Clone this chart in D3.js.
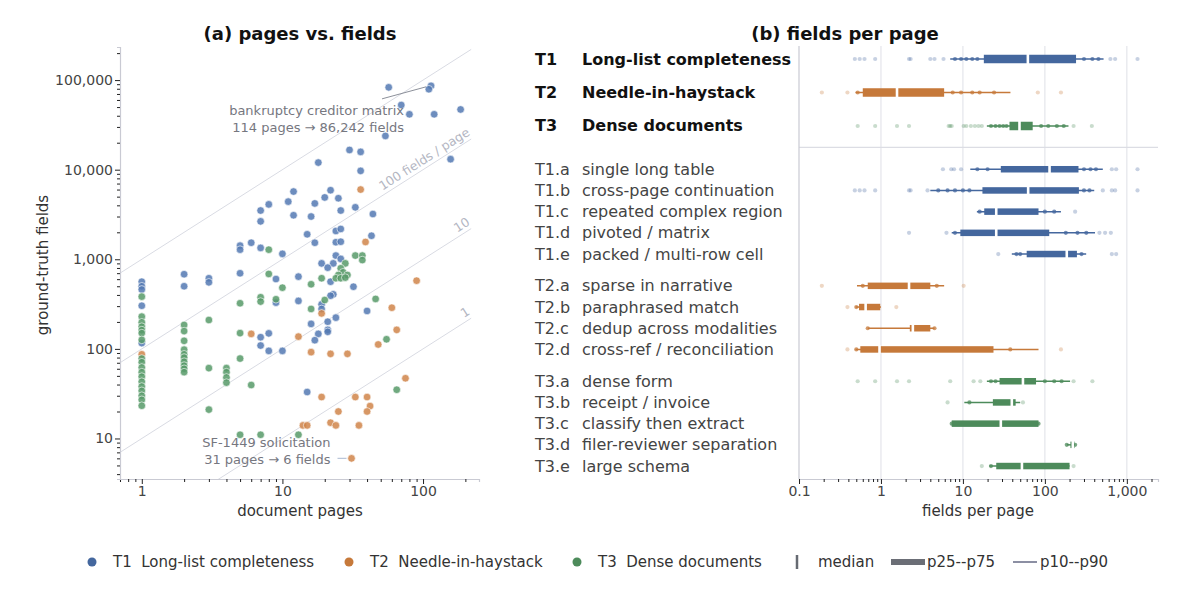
<!DOCTYPE html>
<html>
<head>
<meta charset="utf-8">
<script src="https://cdn.jsdelivr.net/npm/d3@7"></script>
<style>
  body { margin: 0; background: #fff; }
  svg, svg text { font-family: "DejaVu Sans", sans-serif; }
</style>
</head>
<body>
<div id="chart"></div>
<script>
// ---------- data: panel (a), [document pages, ground-truth fields] ----------
const t1Docs = [
  [57, 83000], [114, 86242], [110, 79000], [70, 52700], [80, 41500], [120, 41500], [185, 47000],
  [54, 23800], [157, 13100], [30, 16600], [36, 15800], [18, 12000], [36, 9700], [12, 5700],
  [22, 5900], [11, 4400], [8, 4100], [7, 3500], [7, 2650], [17, 4200], [20, 4900], [25, 4800],
  [26, 3500], [33, 3800], [44, 3200], [12, 3100], [16, 3000], [15, 1900], [24, 2070], [26, 2180],
  [43, 1830], [17, 1530], [24, 1550], [26, 1570], [5, 1420], [5, 1280], [6, 1530], [7, 1340],
  [10, 1150], [24, 1100], [26, 1010], [19, 900], [23, 900], [21, 806], [13, 640], [22, 562],
  [32, 494], [23, 406], [22, 392], [13, 343], [19, 314], [19, 279], [40, 265], [5, 698],
  [2, 681], [2, 500], [3, 614], [3, 553], [9, 602], [1, 562], [1, 500], [1, 460], [1, 303],
  [1, 116], [9, 328], [24, 223], [21, 201], [21, 163], [21, 155], [16, 190], [18, 147],
  [17, 125], [7, 135], [7, 109], [8, 149], [8, 95], [10, 95], [15, 33]
];
const t2Docs = [
  [36, 6000], [39, 1560], [60, 288], [19, 249], [90, 577], [13, 137], [6, 147], [16, 92],
  [22, 88], [29, 88], [65, 163], [48, 112], [19, 29], [33, 29], [40, 29], [42, 23], [40, 20],
  [25, 20], [22, 15], [24, 14], [14, 14], [15, 14], [35, 14], [75, 47], [31, 6], [1, 87]
];
const t3Docs = [
  [8, 1280], [33, 1100], [37, 1100], [37, 980], [28, 900], [26, 794], [27, 716], [25, 668],
  [29, 668], [24, 614], [26, 614], [28, 624], [19, 614], [16, 526], [20, 351], [46, 361],
  [16, 279], [8, 686], [10, 482], [5, 323], [7, 377], [7, 337], [9, 358], [5, 150], [6, 39.5],
  [55, 128], [65, 35], [5, 11], [7, 11], [13, 11], [5, 78],
  [1, 383], [1, 229], [1, 198], [1, 177], [1, 162], [1, 150], [1, 126], [1, 78], [1, 71],
  [1, 62], [1, 55], [1, 49], [1, 43], [1, 38], [1, 34], [1, 30], [1, 27], [1, 23.2],
  [2, 185], [2, 158], [2, 123], [2, 98], [2, 87], [2, 80], [2, 72], [2, 65], [2, 60], [2, 55],
  [3, 210], [3, 61], [3, 21], [4, 61], [4, 55], [4, 48], [4, 42]
];
const densityLines = [1000, 100, 10, 1];
const densityLabels = ["", "100 fields / page", "10", "1"];

// ---------- data: panel (b), fields per page ----------
const rowCodes = ["T1", "T2", "T3", "T1.a", "T1.b", "T1.c", "T1.d", "T1.e",
  "T2.a", "T2.b", "T2.c", "T2.d", "T3.a", "T3.b", "T3.c", "T3.d", "T3.e"];
const rowNames = ["Long-list completeness", "Needle-in-haystack", "Dense documents",
  "single long table", "cross-page continuation", "repeated complex region", "pivoted / matrix",
  "packed / multi-row cell", "sparse in narrative", "paraphrased match", "dedup across modalities",
  "cross-ref / reconciliation", "dense form", "receipt / invoice", "classify then extract",
  "filer-reviewer separation", "large schema"];
const p10 = [7, 0.49, 19.6, 12.3, 4.0, 14.8, 7.3, 39.5, 0.51, 0.49, 0.69, 0.49, 19.6, 10.4, 7.3, 185, 21];
const p25 = [18, 0.60, 37, 29, 17.3, 18.2, 9.3, 60, 0.69, 0.54, 2.25, 0.56, 28, 23.2, 7.3, 205, 25.5];
const p50 = [62, 1.57, 49, 114, 62.5, 25.5, 25.5, 185, 2.2, 0.65, 2.45, 0.96, 54, 39.5, 29, 219, 52.5];
const p75 = [240, 5.9, 71, 257, 260, 83.6, 113, 246, 4.0, 0.98, 4.0, 23.6, 78, 44, 83.6, 230, 200];
const p90 = [520, 38, 194, 509, 400, 157, 409, 319, 5.9, 1.0, 4.5, 83.6, 203, 50, 83.6, 234, 200];
const rowPoints = [
  [0.48, 0.55, 0.63, 0.85, 2.2, 2.3, 4.0, 4.5, 5.8, 8, 9.5, 11, 13, 15, 300, 380, 450, 630, 720, 1350],
  [0.19, 0.39, 0.52, 7.5, 9.5, 13, 16, 24, 82, 157],
  [0.52, 0.85, 1.57, 2.2, 6.7, 7.0, 7.3, 10.2, 11, 12.5, 14, 15.5, 17, 22, 25, 28, 31, 34, 90, 110, 140, 170, 224, 374],
  [5.7, 7.2, 7.8, 9.5, 15, 20, 300, 360, 420, 656, 741, 1350],
  [0.48, 0.55, 0.63, 0.85, 2.2, 2.3, 3.7, 5, 6.5, 8, 10, 12, 300, 350, 509, 656, 720, 1350],
  [16, 100, 130, 234],
  [2.2, 6.3, 8, 180, 250, 320, 463, 543, 638],
  [27, 45, 50, 280, 656, 741],
  [0.19, 0.6, 4.8, 10.2],
  [0.39, 0.5, 1.54],
  [0.69, 4.5],
  [0.39, 0.5, 37.8, 157],
  [0.52, 0.85, 1.57, 2.2, 7.0, 13.5, 16.3, 22, 25, 100, 130, 160, 224, 380],
  [6.5, 12, 54],
  [7.3, 83.6],
  [185, 234],
  [17, 22, 224]
];

const taskNames = ["Long-list completeness", "Needle-in-haystack", "Dense documents"];
const taskColor = { T1: "#44679e", T2: "#c6793a", T3: "#4d8b5b" };
const dotColor = { T1: "#5479b3", T2: "#d0854a", T3: "#579a68" };

// ---------- chart space ----------
const width = 1199, height = 597;
const svg = d3.select("#chart").append("svg")
  .attr("width", width).attr("height", height);

const fmt = d3.format(",");
const isDecade = d => Math.abs(Math.log10(d) - Math.round(Math.log10(d))) < 1e-6;

// style an axis: light spine, short minor ticks, longer decade ticks
function styleAxis(g, dir) {
  g.attr("font-family", null).attr("font-size", null);
  g.select(".domain").attr("stroke", "#c9cad3").attr("stroke-width", 1.2);
  g.selectAll(".tick line").attr("stroke", "#222").attr("stroke-width", 1)
    .attr(dir === "x" ? "y2" : "x2", d => (isDecade(d) ? 5 : 3) * (dir === "x" ? 1 : -1));
  g.selectAll(".tick text").attr("fill", "#444")
    .style("font-family", "'DejaVu Sans'").style("font-size", "14px");
}

// ============ panel (a) ============
const xA = d3.scaleLog().domain([0.7, 250]).range([120, 479]);
const yA = d3.scaleLog().domain([3.53, 234000]).range([479, 47]);

svg.append("defs").append("clipPath").attr("id", "clipA")
  .append("rect").attr("x", 120).attr("y", 47).attr("width", 359).attr("height", 432);

// fields-per-page guide lines
const guides = svg.append("g");
densityLines.forEach((d, i) => {
  guides.append("line")
    .attr("clip-path", "url(#clipA)")
    .attr("x1", xA(0.7)).attr("y1", yA(0.7 * d))
    .attr("x2", xA(220)).attr("y2", yA(220 * d))
    .attr("stroke", "#d9dbe3").attr("stroke-width", 1);
  if (densityLabels[i]) {
    const ang = Math.atan2(yA(10 * d) - yA(d), xA(10) - xA(1)) * 180 / Math.PI;
    guides.append("text")
      .attr("transform", `translate(${xA(226)},${yA(226 * d)}) rotate(${ang})`)
      .attr("dy", -4)
      .attr("text-anchor", "end")
      .attr("fill", "#b3b6c2").attr("font-size", 12.5)
      .text(densityLabels[i]);
  }
});

const gxA = svg.append("g").attr("transform", "translate(0,479)")
  .call(d3.axisBottom(xA).tickSize(3).tickPadding(4)
    .tickFormat(d => [1, 10, 100].includes(d) ? fmt(d) : ""));
styleAxis(gxA, "x");
const gyA = svg.append("g").attr("transform", "translate(120,0)")
  .call(d3.axisLeft(yA).tickSize(3).tickPadding(4)
    .tickFormat(d => [10, 100, 1000, 10000, 100000].includes(Math.round(d)) && isDecade(d) ? fmt(Math.round(d)) : ""));
styleAxis(gyA, "y");

// points
[["T1", t1Docs], ["T2", t2Docs], ["T3", t3Docs]].forEach(([task, docs]) => {
  svg.append("g").selectAll("circle")
    .data(docs)
    .join("circle")
    .attr("cx", d => xA(d[0]))
    .attr("cy", d => yA(d[1]))
    .attr("r", 3.8)
    .attr("fill", dotColor[task])
    .attr("fill-opacity", 0.85)
    .attr("stroke", "#fff")
    .attr("stroke-width", 0.6);
});

// annotations
const ann = svg.append("g").attr("fill", "#76777f").attr("font-size", 13).attr("text-anchor", "end");
const bx = xA(114), by = yA(86242);
ann.append("line").attr("x1", bx - 49).attr("y1", by + 13).attr("x2", bx - 5).attr("y2", by + 1)
  .attr("stroke", "#8c909a").attr("stroke-width", 1);
ann.append("text").attr("x", bx - 27).attr("y", by + 29).text("bankruptcy creditor matrix");
ann.append("text").attr("x", bx - 27).attr("y", by + 46).text("114 pages \u2192 86,242 fields");
const sx = xA(31), sy = yA(6);
ann.append("line").attr("x1", sx - 14).attr("y1", sy).attr("x2", sx - 5).attr("y2", sy)
  .attr("stroke", "#b7c4d8").attr("stroke-width", 1.2);
ann.append("text").attr("x", sx - 21).attr("y", sy - 11).text("SF-1449 solicitation");
ann.append("text").attr("x", sx - 21).attr("y", sy + 6).text("31 pages \u2192 6 fields");

// titles
svg.append("text").attr("x", 300).attr("y", 40).attr("text-anchor", "middle")
  .attr("font-size", 18).attr("font-weight", "bold").attr("fill", "#111").text("(a) pages vs. fields");
svg.append("text").attr("x", 300).attr("y", 516).attr("text-anchor", "middle")
  .attr("font-size", 15).attr("fill", "#333").text("document pages");
svg.append("text").attr("transform", "translate(48,265) rotate(-90)").attr("text-anchor", "middle")
  .attr("font-size", 15).attr("fill", "#333").text("ground-truth fields");

// ============ panel (b) ============
const xB = d3.scaleLog().domain([0.1, 2400]).range([799, 1158]);
const slotY = d3.scaleLinear().domain([0, 1]).range([59, 80.2]);
// main rows stacked 1.58 apart, then sub-rows grouped by task with half-row gaps
const rowSlot = rowCodes.map((c, i) => {
  if (i < 3) return i * 1.58;
  const grp = +c[1] - 1;
  return 5.2 + (i - 3) + grp * 0.5;
});
const sepY = slotY(4.17);

// grid lines
svg.append("g").selectAll("line")
  .data([1, 10, 100, 1000])
  .join("line")
  .attr("x1", d => xB(d)).attr("x2", d => xB(d))
  .attr("y1", 46).attr("y2", 479)
  .attr("stroke", "#e4e5eb").attr("stroke-width", 1.2);
svg.append("line").attr("x1", 799).attr("x2", 1158).attr("y1", sepY).attr("y2", sepY)
  .attr("stroke", "#dcdde4").attr("stroke-width", 1.2);
svg.append("line").attr("x1", 799).attr("x2", 799).attr("y1", 46).attr("y2", 479)
  .attr("stroke", "#c9cad3").attr("stroke-width", 1.2);

const gxB = svg.append("g").attr("transform", "translate(0,479)")
  .call(d3.axisBottom(xB).tickSize(3).tickPadding(4)
    .tickFormat(d => isDecade(d) ? (d < 1 ? "0.1" : fmt(Math.round(d))) : ""));
styleAxis(gxB, "x");

// rows
rowCodes.forEach((code, i) => {
  const y = slotY(rowSlot[i]);
  const col = taskColor[code.slice(0, 2)];
  const main = i < 3;
  const bh = main ? 8.5 : 6.5;
  const g = svg.append("g");

  g.selectAll("circle.out")
    .data(rowPoints[i])
    .join("circle")
    .attr("cx", d => xB(d)).attr("cy", y).attr("r", 2.1)
    .attr("fill", col)
    .attr("fill-opacity", d => (d < p10[i] || d > p90[i]) ? 0.3 : 0.75);

  g.append("line")
    .attr("x1", xB(p10[i])).attr("x2", xB(p90[i])).attr("y1", y).attr("y2", y)
    .attr("stroke", col).attr("stroke-width", 1.5);
  g.append("rect")
    .attr("x", xB(p25[i])).attr("width", Math.max(1, xB(p75[i]) - xB(p25[i])))
    .attr("y", y - bh / 2).attr("height", bh)
    .attr("fill", col);
  g.append("line")
    .attr("x1", xB(p50[i])).attr("x2", xB(p50[i]))
    .attr("y1", y - bh / 2 - 1).attr("y2", y + bh / 2 + 1)
    .attr("stroke", "#fff").attr("stroke-width", 2.6);

  g.append("text").attr("x", 535).attr("y", y + 5.5)
    .attr("font-size", 16).attr("font-weight", main ? "bold" : "normal")
    .attr("fill", main ? "#111" : "#444").text(code);
  g.append("text").attr("x", 582).attr("y", y + 5.5)
    .attr("font-size", 16).attr("font-weight", main ? "bold" : "normal")
    .attr("fill", main ? "#111" : "#444").text(rowNames[i]);
});

svg.append("text").attr("x", 845).attr("y", 40).attr("text-anchor", "middle")
  .attr("font-size", 18).attr("font-weight", "bold").attr("fill", "#111").text("(b) fields per page");
svg.append("text").attr("x", 978).attr("y", 516).attr("text-anchor", "middle")
  .attr("font-size", 15).attr("fill", "#333").text("fields per page");

// ============ legend ============
const leg = svg.append("g").attr("font-size", 15).attr("fill", "#333");
const legY = 562;
const legX = [92, 349, 577];
["T1", "T2", "T3"].forEach((t, i) => {
  leg.append("circle").attr("cx", legX[i]).attr("cy", legY).attr("r", 4.5).attr("fill", taskColor[t]);
  leg.append("text").attr("x", legX[i] + 21).attr("y", legY + 5).attr("xml:space", "preserve")
    .style("white-space", "pre").text(t + "  " + taskNames[i]);
});
leg.append("line").attr("x1", 797).attr("x2", 797).attr("y1", legY - 7).attr("y2", legY + 7)
  .attr("stroke", "#666a72").attr("stroke-width", 2.5);
leg.append("text").attr("x", 818).attr("y", legY + 5).text("median");
leg.append("line").attr("x1", 891).attr("x2", 925).attr("y1", legY).attr("y2", legY)
  .attr("stroke", "#6b6e76").attr("stroke-width", 6);
leg.append("text").attr("x", 927).attr("y", legY + 5).text("p25--p75");
leg.append("line").attr("x1", 1013).attr("x2", 1037).attr("y1", legY).attr("y2", legY)
  .attr("stroke", "#8c8fa3").attr("stroke-width", 2);
leg.append("text").attr("x", 1040).attr("y", legY + 5).text("p10--p90");
</script>
</body>
</html>
